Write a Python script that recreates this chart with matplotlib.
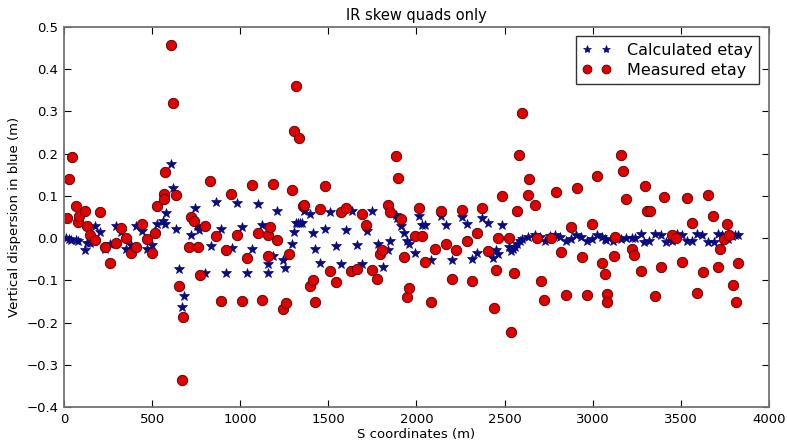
import matplotlib
matplotlib.use('Agg')
import matplotlib.pyplot as plt

# Calculated etay (stars)
calc_s = [11, 26, 41, 68, 81, 117, 132, 147, 174, 206, 233, 263, 293, 323, 353, 380, 410, 441,
          472, 499, 527, 561, 571, 579, 609, 618, 635, 652, 669, 679, 719, 741, 755, 768, 800,
          832, 863, 889, 921, 951, 981, 1008, 1038, 1068, 1099, 1125, 1157, 1159, 1186, 1208,
          1243, 1256, 1291, 1305, 1316, 1328, 1340, 1352, 1362, 1398, 1411, 1425, 1451, 1481,
          1510, 1541, 1573, 1600, 1632, 1660, 1691, 1717, 1747, 1779, 1810, 1839, 1848, 1884,
          1891, 1915, 1932, 1947, 1960, 1993, 2016, 2029, 2048, 2082, 2137, 2169, 2199, 2256,
          2288, 2317, 2345, 2373, 2406, 2434, 2451, 2462, 2488, 2523, 2534, 2545, 2558, 2572,
          2587, 2598, 2633, 2670, 2701, 2729, 2760, 2788, 2816, 2846, 2875, 2907, 2935, 2965,
          2994, 3026, 3054, 3067, 3078, 3116, 3160, 3187, 3225, 3240, 3272, 3293, 3321, 3355,
          3389, 3417, 3449, 3476, 3506, 3536, 3565, 3594, 3622, 3656, 3686, 3712, 3731, 3750,
          3769, 3788, 3809, 3827]
calc_eta = [0.000, -0.003, -0.005, -0.005, -0.008, -0.029, -0.012, -0.012, 0.029, 0.015, -0.027,
            -0.014, 0.028, 0.015, -0.027, -0.016, 0.028, 0.016, -0.027, -0.016, 0.033, 0.040,
            0.033, 0.060, 0.175, 0.118, 0.022, -0.072, -0.163, -0.137, 0.008, 0.071, 0.029,
            0.019, -0.083, -0.018, 0.085, 0.022, -0.082, -0.023, 0.083, 0.027, -0.082, -0.027,
            0.081, 0.030, -0.082, -0.062, -0.042, 0.065, -0.051, -0.071, -0.013, 0.014, 0.035,
            0.035, 0.035, 0.035, 0.065, 0.057, 0.013, -0.026, -0.059, 0.021, 0.061, -0.018,
            -0.061, 0.018, 0.063, -0.016, -0.061, 0.017, 0.063, -0.014, -0.068, -0.029, -0.007,
            0.055, 0.048, 0.029, 0.011, -0.008, -0.013, -0.035, 0.053, 0.031, 0.031, -0.053,
            0.053, 0.032, -0.051, 0.049, 0.033, -0.050, -0.035, 0.048, 0.035, -0.047, -0.028,
            -0.038, 0.032, -0.020, -0.031, -0.026, -0.020, -0.015, -0.008, -0.002, 0.003, 0.008,
            0.003, -0.006, 0.005, 0.007, 0.003, -0.006, -0.001, 0.007, 0.003, -0.006, -0.002,
            0.007, 0.003, -0.001, -0.005, -0.006, -0.003, 0.000, 0.001, 0.001, 0.009, -0.009,
            -0.006, 0.010, 0.008, -0.009, -0.008, 0.010, 0.008, -0.008, -0.008, 0.010, 0.008,
            -0.009, -0.009, 0.010, 0.008, 0.005, -0.001, 0.006, 0.008, 0.007]

# Measured etay (circles)
meas_s = [15, 30, 44, 68, 79, 87, 117, 132, 149, 174, 206, 233, 263, 295, 323, 353, 380, 410,
          441, 472, 501, 516, 529, 566, 569, 574, 609, 618, 635, 652, 671, 677, 711, 718, 739,
          758, 771, 800, 830, 863, 889, 921, 949, 981, 1008, 1038, 1066, 1099, 1125, 1157, 1159,
          1168, 1188, 1208, 1245, 1258, 1274, 1291, 1305, 1318, 1335, 1355, 1364, 1396, 1411,
          1425, 1450, 1481, 1510, 1543, 1573, 1600, 1627, 1660, 1690, 1716, 1747, 1778, 1795,
          1806, 1839, 1849, 1884, 1896, 1915, 1930, 1944, 1957, 1993, 2016, 2033, 2046, 2082,
          2107, 2137, 2169, 2199, 2226, 2256, 2288, 2317, 2345, 2373, 2406, 2437, 2449, 2462,
          2488, 2523, 2536, 2551, 2568, 2584, 2597, 2633, 2641, 2670, 2685, 2704, 2721, 2761,
          2790, 2818, 2848, 2878, 2910, 2937, 2967, 2996, 3027, 3054, 3071, 3081, 3083, 3121,
          3124, 3162, 3172, 3188, 3224, 3237, 3273, 3294, 3307, 3325, 3355, 3385, 3406, 3448,
          3474, 3504, 3536, 3565, 3592, 3623, 3654, 3684, 3710, 3724, 3743, 3763, 3771, 3797,
          3812, 3827]
meas_eta = [0.047, 0.140, 0.191, 0.077, 0.039, 0.052, 0.064, 0.029, 0.007, -0.005, 0.061, -0.021,
            -0.058, -0.011, 0.024, 0.000, -0.035, -0.020, 0.033, -0.002, -0.036, 0.013, 0.075,
            0.104, 0.092, 0.156, 0.457, 0.319, 0.103, -0.113, -0.336, -0.188, -0.020, 0.051,
            0.040, -0.020, -0.088, 0.028, 0.135, 0.004, -0.148, -0.029, 0.105, 0.007, -0.148,
            -0.046, 0.125, 0.011, -0.147, -0.042, 0.007, 0.027, 0.129, -0.005, -0.168, -0.154,
            -0.038, 0.115, 0.254, 0.360, 0.237, 0.076, 0.078, -0.113, -0.100, -0.152, 0.070,
            0.123, -0.077, -0.105, 0.061, 0.072, -0.079, -0.073, 0.056, 0.032, -0.075, -0.097,
            -0.037, -0.029, 0.078, 0.061, 0.195, 0.143, 0.045, -0.045, -0.140, -0.119, 0.006,
            0.072, 0.006, -0.057, -0.152, -0.026, 0.063, -0.014, -0.097, -0.028, 0.067, -0.008,
            -0.101, 0.013, 0.071, -0.031, -0.165, -0.075, 0.000, 0.100, 0.000, -0.222, -0.083,
            0.063, 0.196, 0.296, 0.103, 0.140, 0.079, 0.000, -0.101, -0.147, 0.000, 0.108,
            -0.033, -0.134, 0.026, 0.118, -0.045, -0.134, 0.033, 0.146, -0.058, -0.084, -0.132,
            -0.152, -0.042, 0.003, 0.196, 0.160, 0.092, -0.025, -0.040, -0.077, 0.123, 0.063,
            0.063, -0.137, -0.068, 0.097, 0.008, 0.000, -0.056, 0.096, 0.035, -0.130, -0.080,
            0.101, 0.052, -0.069, -0.026, -0.002, 0.033, 0.008, -0.112, -0.152, -0.058]

fig = plt.figure(figsize=(7.87, 4.41), dpi=100)
ax = fig.add_axes([0.0813, 0.077, 0.8958, 0.862])

ax.plot(calc_s, calc_eta, '*', color='#0a0a80', markersize=7, markeredgewidth=0.5,
        label='Calculated etay')
ax.plot(meas_s, meas_eta, 'o', color='#e00000', markeredgecolor='#4a0000', markersize=7.5,
        markeredgewidth=0.6, label='Measured etay')

ax.set_xlim(0, 4000)
ax.set_ylim(-0.4, 0.5)
ax.set_xticks(range(0, 4001, 500))
ax.set_yticks([-0.4, -0.3, -0.2, -0.1, 0.0, 0.1, 0.2, 0.3, 0.4, 0.5])
ax.tick_params(direction='in', top=True, right=True, length=5, labelsize=9.5, pad=4)
for sp in ax.spines.values():
    sp.set_color('0.45')
    sp.set_linewidth(1.3)

ax.set_xlabel('S coordinates (m)', fontsize=9.5, labelpad=2)
ax.set_ylabel('Vertical dispersion in blue (m)', fontsize=9.5)
ax.set_title('IR skew quads only', fontsize=10.5, pad=5)

leg = ax.legend(loc='upper right', numpoints=2, fontsize=11.5, fancybox=False,
                borderaxespad=0.6, handletextpad=1.0, handlelength=1.8, labelspacing=0.3,
                markerscale=0.85)
leg.get_frame().set_edgecolor('black')
leg.get_frame().set_linewidth(1.0)

fig.savefig('out.png', dpi=100)
